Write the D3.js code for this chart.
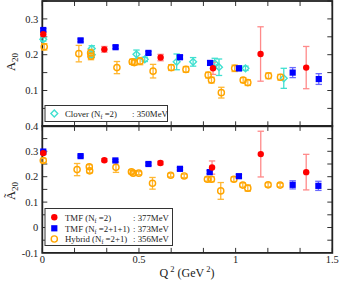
<!DOCTYPE html>
<html><head><meta charset="utf-8">
<script src="https://cdn.jsdelivr.net/npm/d3@7"></script>
<style>
html,body{margin:0;padding:0;background:#fff;}
svg{display:block;font-family:"Liberation Serif","Times New Roman",serif;}
</style></head>
<body>
<svg id="c" width="340" height="282"></svg>
<script>
// ---------- data (Q^2 in GeV^2, value, error) ----------
// top panel: A20
const topTMF2_q   = [0.005, 0.321, 0.612, 0.883, 1.129, 1.365];
const topTMF2_v   = [0.257, 0.215, 0.192, 0.162, 0.202, 0.164];
const topTMF2_e   = [0.006, 0.008, 0.009, 0.017, 0.076, 0.059];

const topTMF4_q   = [0.005, 0.198, 0.379, 0.549, 0.712, 0.868, 1.017, 1.295, 1.430];
const topTMF4_v   = [0.269, 0.240, 0.221, 0.205, 0.193, 0.177, 0.162, 0.150, 0.132];
const topTMF4_e   = [0.004, 0.004, 0.004, 0.004, 0.005, 0.006, 0.007, 0.014, 0.015];

const topHyb_q    = [0.010, 0.189, 0.250, 0.252, 0.386, 0.465, 0.476, 0.506, 0.573, 0.667, 0.743, 0.858, 0.875, 0.926, 0.995, 1.039, 1.063, 1.170, 1.232];
const topHyb_v    = [0.222, 0.203, 0.205, 0.196, 0.164, 0.180, 0.178, 0.182, 0.154, 0.164, 0.159, 0.143, 0.129, 0.094, 0.162, 0.129, 0.122, 0.141, 0.137];
const topHyb_e    = [0.009, 0.023, 0.010, 0.010, 0.017, 0.007, 0.007, 0.010, 0.019, 0.008, 0.008, 0.008, 0.008, 0.015, 0.009, 0.007, 0.008, 0.008, 0.008];

const topClov_q   = [0.005, 0.256, 0.256, 0.487, 0.530, 0.695, 0.780, 0.892, 0.914, 1.051, 1.249];
const topClov_v   = [0.243, 0.217, 0.200, 0.201, 0.187, 0.180, 0.180, 0.176, 0.165, 0.162, 0.134];
const topClov_e   = [0.005, 0.008, 0.008, 0.012, 0.006, 0.022, 0.012, 0.014, 0.023, 0.006, 0.028];

// bottom panel: tilde A20
const botTMF2_q   = [0.005, 0.321, 0.611, 0.878, 1.130, 1.365];
const botTMF2_v   = [0.293, 0.265, 0.254, 0.236, 0.289, 0.218];
const botTMF2_e   = [0.006, 0.006, 0.007, 0.026, 0.090, 0.070];

const botTMF4_q   = [0.005, 0.198, 0.378, 0.549, 0.712, 0.866, 1.017, 1.295, 1.428];
const botTMF4_v   = [0.299, 0.281, 0.264, 0.250, 0.231, 0.218, 0.202, 0.168, 0.164];
const botTMF4_e   = [0.004, 0.004, 0.004, 0.005, 0.005, 0.006, 0.007, 0.016, 0.018];

const botHyb_q    = [0.005, 0.180, 0.243, 0.245, 0.381, 0.461, 0.470, 0.499, 0.570, 0.664, 0.734, 0.854, 0.875, 0.923, 0.991, 1.037, 1.063, 1.168, 1.230];
const botHyb_v    = [0.264, 0.228, 0.239, 0.223, 0.237, 0.219, 0.214, 0.214, 0.174, 0.206, 0.203, 0.190, 0.190, 0.144, 0.190, 0.167, 0.155, 0.168, 0.167];
const botHyb_e    = [0.008, 0.024, 0.008, 0.008, 0.020, 0.007, 0.007, 0.006, 0.023, 0.007, 0.007, 0.008, 0.010, 0.033, 0.009, 0.008, 0.012, 0.008, 0.007];

const xTickLabels   = ["0", "0.5", "1", "1.5"];
const topYTickLabels = ["0.1", "0.2", "0.3"];
const botYTickLabels = ["-0.1", "0", "0.1", "0.2", "0.3", "0.4"];

// ---------- drawing ----------
const svg = d3.select("#c");
const X0 = 42.3, X1 = 332.3;
const x = d3.scaleLinear().domain([0, 1.5]).range([X0, X1]);
const yTop = d3.scaleLinear().domain([0, 0.35]).range([126.3, 1.0]);
const yBot = d3.scaleLinear().domain([-0.1, 0.4]).range([252.9, 125.9]);

const RED = "#ff0000", RED_E = "#ff8a8a";
const BLUE = "#0000ff", BLUE_E = "#6a6aff";
const ORG = "#ffa500", ORG_E = "#ffb733";
const CYAN = "#40e0d0", CYAN_E = "#40e0d0";

function zip(q, v, e) { return q.map((d, i) => ({q: d, v: v[i], e: e[i]})); }

function errorBars(g, data, y, col) {
  const eg = g.append("g").attr("stroke", col).attr("stroke-width", 1.3).attr("fill", "none");
  data.forEach(d => {
    const xa = x(d.q), y1 = y(d.v + d.e), y2 = y(d.v - d.e);
    eg.append("line").attr("x1", xa).attr("x2", xa).attr("y1", y1).attr("y2", y2);
    eg.append("line").attr("x1", xa - 3.2).attr("x2", xa + 3.2).attr("y1", y1).attr("y2", y1);
    eg.append("line").attr("x1", xa - 3.2).attr("x2", xa + 3.2).attr("y1", y2).attr("y2", y2);
  });
}
function markers(g, data, y, type, col) {
  data.forEach(d => drawMarker(g, x(d.q), y(d.v), type, col));
}
function drawMarker(g, cx, cy, type, col) {
  if (type === "circle") g.append("circle").attr("cx", cx).attr("cy", cy).attr("r", 3.2).attr("fill", col);
  else if (type === "square") g.append("rect").attr("x", cx - 3.1).attr("y", cy - 3.1).attr("width", 6.2).attr("height", 6.2).attr("fill", col);
  else if (type === "ocircle") g.append("circle").attr("cx", cx).attr("cy", cy).attr("r", 3.1).attr("fill", "none").attr("stroke", col).attr("stroke-width", 1.4);
  else if (type === "diamond") g.append("path").attr("d", `M${cx},${cy-3.4}L${cx+3.4},${cy}L${cx},${cy+3.4}L${cx-3.4},${cy}Z`).attr("fill", "none").attr("stroke", col).attr("stroke-width", 1.4);
}

function frame(y, ticks, labels, labelVals, yMin, yMax) {
  const g = svg.append("g");
  const top = y(yMax), bot = y(yMin);
  const xt = d3.range(0, 1.5001, 1/6);
  xt.forEach(t => {
    g.append("line").attr("x1", x(t)).attr("x2", x(t)).attr("y1", bot).attr("y2", bot - 5).attr("stroke", "#333").attr("stroke-width", 1);
    g.append("line").attr("x1", x(t)).attr("x2", x(t)).attr("y1", top).attr("y2", top + 5).attr("stroke", "#333").attr("stroke-width", 1);
  });
  ticks.forEach(t => {
    g.append("line").attr("x1", X0).attr("x2", X0 + 5).attr("y1", y(t)).attr("y2", y(t)).attr("stroke", "#333").attr("stroke-width", 1);
    g.append("line").attr("x1", X1).attr("x2", X1 - 5).attr("y1", y(t)).attr("y2", y(t)).attr("stroke", "#333").attr("stroke-width", 1);
  });
  g.append("rect").attr("x", X0).attr("y", top).attr("width", X1 - X0).attr("height", bot - top)
    .attr("fill", "none").attr("stroke", "#222").attr("stroke-width", 1.8);
  labelVals.forEach((v, i) => {
    g.append("text").attr("x", X0 - 4).attr("y", y(v)).attr("dy", "0.35em").attr("text-anchor", "end")
      .attr("font-size", 10.5).attr("fill", "#222").text(labels[i]);
  });
}

const topTicks = d3.range(0.05, 0.3501, 0.05);
frame(yTop, topTicks, topYTickLabels, [0.1, 0.2, 0.3], 0, 0.35);
const botTicks = d3.range(-0.05, 0.4, 0.05);
frame(yBot, botTicks, botYTickLabels, [-0.1, 0, 0.1, 0.2, 0.3, 0.4], -0.1, 0.4);

[0, 0.5, 1, 1.5].forEach((v, i) => {
  svg.append("text").attr("x", x(v)).attr("y", 263).attr("text-anchor", "middle")
    .attr("font-size", 10.5).attr("fill", "#222").text(xTickLabels[i]);
});

const gT = svg.append("g");
errorBars(gT, zip(topClov_q, topClov_v, topClov_e), yTop, CYAN_E);
errorBars(gT, zip(topHyb_q, topHyb_v, topHyb_e), yTop, ORG_E);
errorBars(gT, zip(topTMF4_q, topTMF4_v, topTMF4_e), yTop, BLUE_E);
errorBars(gT, zip(topTMF2_q, topTMF2_v, topTMF2_e), yTop, RED_E);
markers(gT, zip(topClov_q, topClov_v, topClov_e), yTop, "diamond", CYAN);
markers(gT, zip(topHyb_q, topHyb_v, topHyb_e), yTop, "ocircle", ORG);
markers(gT, zip(topTMF4_q, topTMF4_v, topTMF4_e), yTop, "square", BLUE);
markers(gT, zip(topTMF2_q, topTMF2_v, topTMF2_e), yTop, "circle", RED);

const gB = svg.append("g");
errorBars(gB, zip(botHyb_q, botHyb_v, botHyb_e), yBot, ORG_E);
errorBars(gB, zip(botTMF4_q, botTMF4_v, botTMF4_e), yBot, BLUE_E);
errorBars(gB, zip(botTMF2_q, botTMF2_v, botTMF2_e), yBot, RED_E);
markers(gB, zip(botHyb_q, botHyb_v, botHyb_e), yBot, "ocircle", ORG);
markers(gB, zip(botTMF4_q, botTMF4_v, botTMF4_e), yBot, "square", BLUE);
markers(gB, zip(botTMF2_q, botTMF2_v, botTMF2_e), yBot, "circle", RED);

function legendText(g, tx, ty, pre, sub, post, tail, tailX) {
  const t = g.append("text").attr("x", tx).attr("y", ty).attr("font-size", 8.8).attr("fill", "#222");
  t.append("tspan").text(pre);
  t.append("tspan").attr("font-size", 6).attr("dy", 2).text(sub);
  t.append("tspan").attr("dy", -2).text(post);
  g.append("text").attr("x", tailX).attr("y", ty).attr("font-size", 8.8).attr("fill", "#222").text(tail);
}
const lt = svg.append("g");
lt.append("rect").attr("x", 45).attr("y", 105.5).attr("width", 122.5).attr("height", 16).attr("fill", "#fff").attr("stroke", "#333").attr("stroke-width", 1);
drawMarker(lt, 54.3, 113.5, "diamond", CYAN);
legendText(lt, 65, 116.8, "Clover (N", "f", " =2)", ": 350MeV", 132);

const lb = svg.append("g");
lb.append("rect").attr("x", 45).attr("y", 208.5).attr("width", 127.5).attr("height", 37).attr("fill", "#fff").attr("stroke", "#333").attr("stroke-width", 1);
drawMarker(lb, 54.3, 217.3, "circle", RED);
drawMarker(lb, 54.3, 228.3, "square", BLUE);
drawMarker(lb, 54.3, 239, "ocircle", ORG);
legendText(lb, 65, 220.6, "TMF (N", "f", " =2)", ": 377MeV", 133);
legendText(lb, 65, 231.6, "TMF (N", "f", " =2+1+1)", ": 373MeV", 133);
legendText(lb, 65, 242.3, "Hybrid (N", "f", " =2+1)", ": 356MeV", 133);

function yTitle(cy, tilde) {
  const g = svg.append("g").attr("transform", `translate(15,${cy}) rotate(-90)`);
  const t = g.append("text").attr("text-anchor", "middle").attr("font-size", 12.5).attr("fill", "#222");
  t.append("tspan").text(tilde ? "\u00C3" : "A");
  t.append("tspan").attr("font-size", 9).attr("dy", 3).text("20");
}
yTitle(62, false);
yTitle(191, true);

const xt = svg.append("text").attr("x", 187).attr("y", 277).attr("text-anchor", "middle").attr("font-size", 12).attr("fill", "#222");
xt.append("tspan").text("Q");
xt.append("tspan").attr("font-size", 8.5).attr("dy", -5).text(" 2");
xt.append("tspan").attr("dy", 5).text("  (GeV");
xt.append("tspan").attr("font-size", 8.5).attr("dy", -5).text(" 2");
xt.append("tspan").attr("dy", 5).text(")");
</script>
</body></html>
